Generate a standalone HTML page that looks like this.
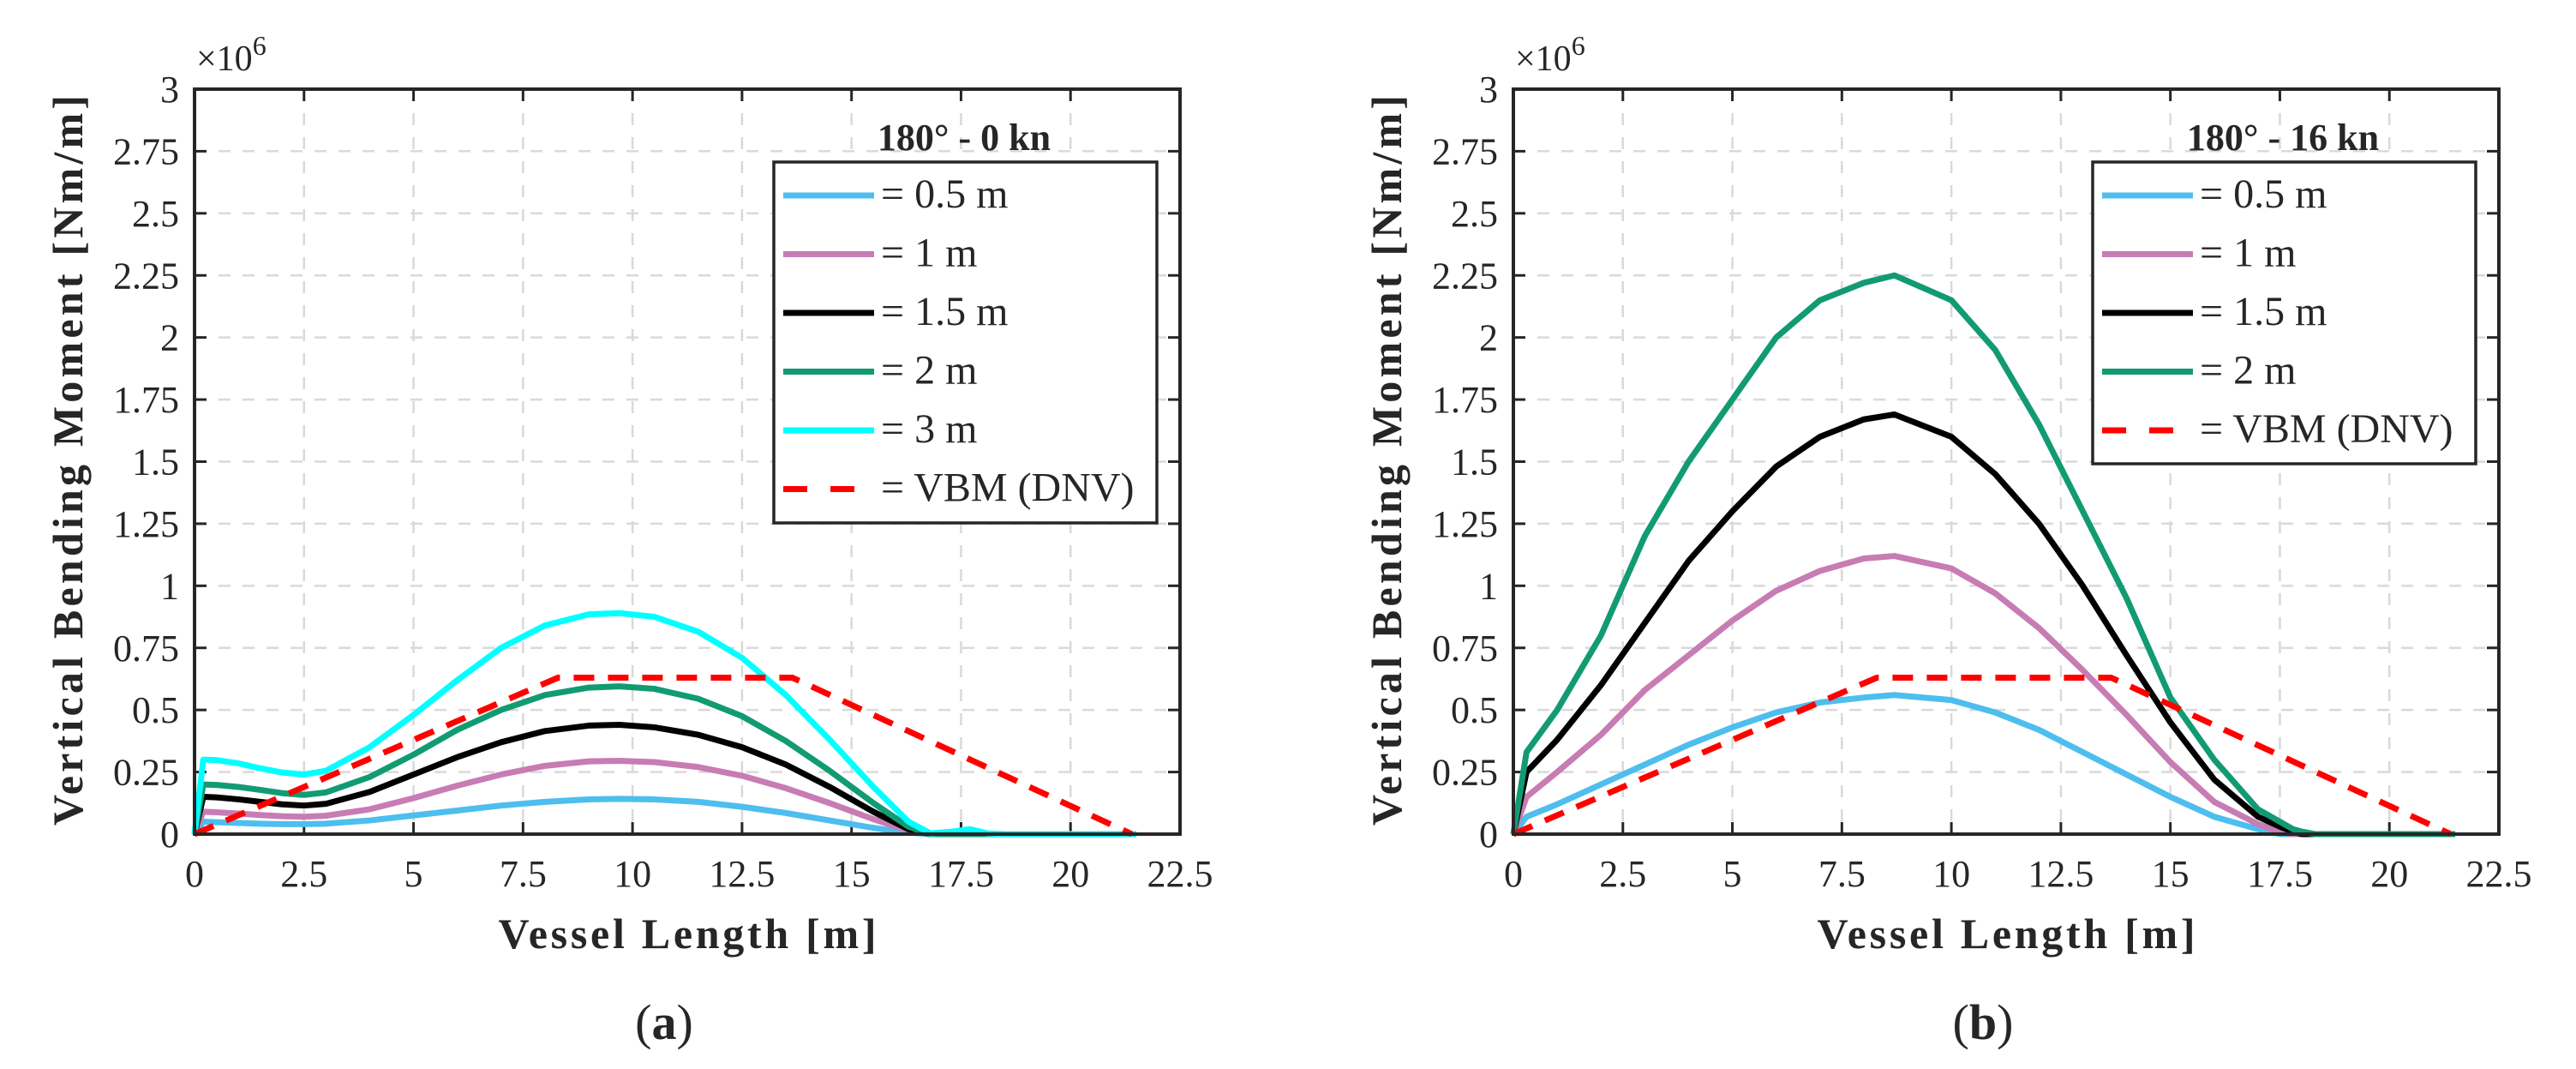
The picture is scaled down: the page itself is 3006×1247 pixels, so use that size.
<!DOCTYPE html>
<html><head><meta charset="utf-8"><style>
body{margin:0;background:#fff}
svg{display:block}
text{font-family:"Liberation Serif",serif;fill:#262626}
</style></head><body>
<svg id="chart" width="3006" height="1247" viewBox="0 0 3006 1247" xmlns="http://www.w3.org/2000/svg"></svg>
<script>
const xTicks=[0,2.5,5,7.5,10,12.5,15,17.5,20,22.5];
const xTickLabels=["0","2.5","5","7.5","10","12.5","15","17.5","20","22.5"];
const yTicks=[0,0.25,0.5,0.75,1,1.25,1.5,1.75,2,2.25,2.5,2.75,3];
const yTickLabels=["0","0.25","0.5","0.75","1","1.25","1.5","1.75","2","2.25","2.5","2.75","3"];
// left panel (a) series: x [m], y [x1e6 Nm/m]
const aX=[0,0.2,0.5,1,1.5,2,2.5,3,4,5,6,7,8,9,9.7,10.5,11.5,12.5,13.5,14.5,15.5,16.3,16.8,17.3,17.7,18.1,18.5,21.5];
const a05=[0,0.05,0.048,0.045,0.042,0.04,0.04,0.042,0.055,0.075,0.095,0.115,0.13,0.14,0.142,0.14,0.13,0.11,0.085,0.055,0.025,0.006,0,0,0,0,0,0];
const a1=[0,0.09,0.088,0.083,0.077,0.072,0.07,0.074,0.1,0.145,0.195,0.24,0.275,0.293,0.295,0.29,0.27,0.235,0.185,0.125,0.06,0.015,0,0,0,0,0,0];
const a15=[0,0.15,0.148,0.14,0.13,0.12,0.115,0.122,0.17,0.24,0.31,0.37,0.415,0.437,0.44,0.43,0.4,0.35,0.28,0.19,0.09,0.02,0,0,0,0,0,0];
const a2=[0,0.2,0.198,0.19,0.178,0.165,0.158,0.168,0.23,0.32,0.42,0.5,0.56,0.59,0.595,0.585,0.545,0.475,0.375,0.255,0.125,0.03,0,0,0,0,0,0];
const a3=[0,0.3,0.298,0.285,0.265,0.248,0.24,0.255,0.35,0.48,0.62,0.75,0.84,0.885,0.89,0.875,0.815,0.71,0.56,0.38,0.19,0.05,0.003,0.01,0.02,0.003,0,0];
const vbmX=[0,8.3,13.65,21.4];
const vbmY=[0,0.63,0.63,0];
// right panel (b)
const bX=[0,0.3,1,2,3,4,5,6,7,8,8.7,10,11,12,13,14,15,16,17,17.5,17.8,18,18.3,21.5];
const b05=[0,0.07,0.12,0.2,0.28,0.36,0.43,0.49,0.53,0.55,0.56,0.54,0.49,0.42,0.33,0.24,0.15,0.07,0.02,0,0,0,0,0];
const b1=[0,0.15,0.25,0.4,0.58,0.72,0.86,0.98,1.06,1.11,1.12,1.07,0.97,0.83,0.66,0.48,0.29,0.13,0.04,0.01,0,0,0,0];
const b15=[0,0.25,0.38,0.6,0.85,1.1,1.3,1.48,1.6,1.67,1.69,1.6,1.45,1.25,1.0,0.72,0.45,0.22,0.07,0.03,0.01,0,0,0];
const b2=[0,0.33,0.5,0.8,1.2,1.5,1.75,2.0,2.15,2.22,2.25,2.15,1.95,1.65,1.3,0.95,0.55,0.3,0.1,0.05,0.02,0.01,0,0];

const NS="http://www.w3.org/2000/svg";
const svg=document.getElementById('chart');
function el(t,a,p){const e=document.createElementNS(NS,t);for(const k in a)e.setAttribute(k,a[k]);(p||svg).appendChild(e);return e;}
const C={c05:"#4DBEEE",c1:"#C77CB4",c15:"#000000",c2:"#129B73",c3:"#00FFFF",red:"#FF0000"};

function panel(x0,title,series,legH,tag,titleLabel){
  const g=el('g',{});
  
  
  const L=x0,R=x0+1150,T=104,B=973;
  const sx=v=>L+(v/22.5)*(R-L), sy=v=>B-(v/3)*(B-T);
  xTicks.forEach((t,i)=>{
    if(i>0&&i<xTicks.length-1){const gl=el('line',{x1:sx(t),x2:sx(t),y1:T,y2:B,stroke:"#d9d9d9","stroke-width":2.5,"stroke-dasharray":"14,14"},g);
    }
    for(const [a,b] of [[B,B-14],[T,T+14]]){el('line',{x1:sx(t),x2:sx(t),y1:a,y2:b,stroke:"#262626","stroke-width":3},g);}
    const tx=el('text',{x:sx(t),y:1034,"font-size":44,"text-anchor":"middle"},g);tx.textContent=xTickLabels[i];
    
  });
  yTicks.forEach((t,i)=>{
    if(i>0&&i<yTicks.length-1){const gl=el('line',{x1:L,x2:R,y1:sy(t),y2:sy(t),stroke:"#d9d9d9","stroke-width":2.5,"stroke-dasharray":"14,14"},g);
    }
    for(const [a,b] of [[L,L+14],[R,R-14]]){el('line',{x1:a,x2:b,y1:sy(t),y2:sy(t),stroke:"#262626","stroke-width":3},g);}
    const tx=el('text',{x:L-18,y:sy(t)+15,"font-size":44,"text-anchor":"end"},g);tx.textContent=yTickLabels[i];
    
  });
  series.forEach(s=>{
    const pts=s.x.map((v,i)=>sx(v)+","+sy(s.y[i])).join(" ");
    const a={points:pts,fill:"none",stroke:s.c,"stroke-width":7,"stroke-linejoin":"round"};
    if(s.dash)a["stroke-dasharray"]="24,16";
    const pl=el('polyline',a,g);
    
    
  });
  const box=el('rect',{x:L,y:T,width:R-L,height:B-T,fill:"none",stroke:"#262626","stroke-width":4},g);
  
  const ex=el('text',{x:L+2,y:82,"font-size":42},g);ex.innerHTML='×10<tspan dy="-18" font-size="32">6</tspan>';
  
  const xt=el('text',{x:(L+R)/2,y:1106,"font-size":50,"font-weight":"bold","text-anchor":"middle",textLength:441},g);xt.textContent="Vessel Length [m]";
  
  const cy=(111+963)/2;
  const yt=el('text',{x:0,y:0,"font-size":50,"font-weight":"bold","text-anchor":"middle",textLength:852,transform:`translate(${L-131},${cy}) rotate(-90)`},g);yt.textContent="Vertical Bending Moment [Nm/m]";
  
  const lx=L+676, ly=189;
  const lt=el('text',{x:lx+222,y:175,"font-size":44,"font-weight":"bold","text-anchor":"middle"},g);lt.textContent=title;
  
  const lb=el('rect',{x:lx,y:ly,width:447,height:legH,fill:"#fff",stroke:"#262626","stroke-width":3.5},g);
  
  series.forEach((s,i)=>{
    const yy=228+i*68.5;
    const a={x1:lx+11,x2:lx+117,y1:yy,y2:yy,stroke:s.c,"stroke-width":7};
    if(s.dash)a["stroke-dasharray"]="28,27";
    const ln=el('line',a,g);
    
    const tx=el('text',{x:lx+125,y:yy+14,"font-size":48},g);tx.textContent="= "+s.label;
    
  });
  const sub=el('text',{x:(L+R)/2-27,y:1212,"font-size":58,"text-anchor":"middle"},g);
  sub.innerHTML='(<tspan font-weight="bold">'+titleLabel+'</tspan>)';
  
}
panel(227,"180° - 0 kn",[
 {name:"0-5m",x:aX,y:a05,c:C.c05,label:"0.5 m"},
 {name:"1m",x:aX,y:a1,c:C.c1,label:"1 m"},
 {name:"1-5m",x:aX,y:a15,c:C.c15,label:"1.5 m"},
 {name:"2m",x:aX,y:a2,c:C.c2,label:"2 m"},
 {name:"3m",x:aX,y:a3,c:C.c3,label:"3 m"},
 {name:"vbm-dnv",x:vbmX,y:vbmY,c:C.red,dash:true,label:"VBM (DNV)"}],421,"a","a");
panel(1766,"180° - 16 kn",[
 {name:"0-5m",x:bX,y:b05,c:C.c05,label:"0.5 m"},
 {name:"1m",x:bX,y:b1,c:C.c1,label:"1 m"},
 {name:"1-5m",x:bX,y:b15,c:C.c15,label:"1.5 m"},
 {name:"2m",x:bX,y:b2,c:C.c2,label:"2 m"},
 {name:"vbm-dnv",x:vbmX,y:vbmY,c:C.red,dash:true,label:"VBM (DNV)"}],352,"b","b");
</script>
</body></html>
